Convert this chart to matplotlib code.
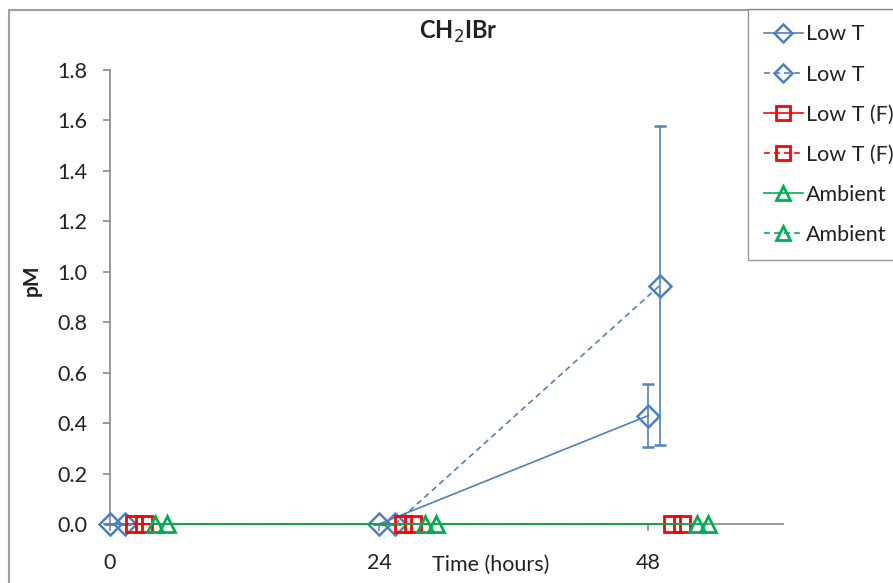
import matplotlib.pyplot as plt
import matplotlib.patches as patches
from matplotlib.lines import Line2D
import numpy as np

plt.rcParams['font.family'] = ['Lato', 'DejaVu Sans']

# sampling times (h), each series nudged sideways so markers don't sit on top of each other
t_lowT = [0, 24, 48]
t_lowT_b = [1.3, 25.4, 49.0]
t_lowTF = [2.1, 26.1, 50.1]
t_lowTF_b = [3.0, 27.0, 51.0]
t_amb = [4.0, 28.1, 52.3]
t_amb_b = [5.1, 29.1, 53.3]

lowT = [0.0, 0.0, 0.43]
lowT_err = [0.0, 0.0, 0.125]
lowT_b = [0.0, 0.0, 0.945]
lowT_b_err = [0.0, 0.0, 0.633]
lowTF = [0.0, 0.0, 0.0]
lowTF_b = [0.0, 0.0, 0.0]
amb = [0.0, 0.0, 0.0]
amb_b = [0.0, 0.0, 0.0]

labels = ['Low T', 'Low T', 'Low T (F)', 'Low T (F)', 'Ambient', 'Ambient']
xticks = [0, 24, 48]
yticks = np.arange(0, 1.81, 0.2)

blue = '#4F81BD'
red = '#FF0000'
green = '#00B050'
grey = '#868686'
txt = '#222222'

fig = plt.figure(figsize=(8.93, 5.83), dpi=100)
ax = fig.add_axes([110/893, 59/583, 673/893, 454/583])

dash = (0, (3.5, 2.5))
lw = 1.2

ax.errorbar(t_lowT, lowT, yerr=lowT_err, color=blue, lw=lw, marker='D', ms=11.5,
            mfc='none', mew=1.8, capsize=4, elinewidth=1.2, capthick=1.2, zorder=3)
ax.errorbar(t_lowT_b, lowT_b, yerr=lowT_b_err, color=blue, lw=lw, ls=dash,
            marker='D', ms=11.5, mfc='none', mew=1.8, capsize=4,
            elinewidth=1.2, capthick=1.2, zorder=3)
ax.plot(t_lowTF, lowTF, color=red, lw=lw, marker='s', ms=12, mfc='none', mew=2, zorder=4)
ax.plot(t_lowTF_b, lowTF_b, color=red, lw=lw, ls=dash, marker='s', ms=12,
        mfc='none', mew=2, zorder=4)
ax.plot(t_amb, amb, color=green, lw=lw, marker='^', ms=12, mfc='none', mew=2, zorder=5)
ax.plot(t_amb_b, amb_b, color=green, lw=lw, ls=dash, marker='^', ms=12,
        mfc='none', mew=2, zorder=5)

ax.set_xlim(0, 60)
ax.set_ylim(0, 1.8)
ax.set_xticks(xticks)
ax.set_xticklabels([str(v) for v in xticks])
ax.set_yticks(yticks)
ax.set_yticklabels(['%.1f' % v for v in yticks])

for s in ['top', 'right']:
    ax.spines[s].set_visible(False)
for s in ['left', 'bottom']:
    ax.spines[s].set_color(grey)
    ax.spines[s].set_linewidth(1.2)
ax.tick_params(axis='both', colors=grey, labelcolor=txt, labelsize=15.5,
               length=5, width=1.2, direction='out')
ax.tick_params(axis='y', pad=11)
ax.tick_params(axis='x', pad=16)
for art in ax.lines + ax.collections:
    art.set_clip_on(False)

fig.text(458/893, 1 - 32/583, 'CH$_2$IBr', fontsize=17, fontweight='bold',
         ha='center', va='center', color=txt)
ax.text(0.565, -0.09, 'Time (hours)', transform=ax.transAxes, fontsize=15.5,
        ha='center', va='center', color=txt)
fig.text(32/893, 1 - 280/583, 'pM', rotation=90, fontsize=15, fontweight='bold',
         ha='center', va='center', color=txt)

# outer chart frame
fig.patches.append(patches.Rectangle((9/893, -0.1), 1.2, 1 - 10/583 + 0.1,
                                     transform=fig.transFigure, fill=False,
                                     edgecolor='#A0A0A0', lw=1.5))

handles = [
    Line2D([], [], color=blue, lw=lw, marker='D', ms=9, mfc='none', mew=1.8),
    Line2D([], [], color=blue, lw=lw, ls=dash, marker='D', ms=9, mfc='none', mew=1.8),
    Line2D([], [], color=red, lw=lw, marker='s', ms=10, mfc='none', mew=2),
    Line2D([], [], color=red, lw=lw, ls=dash, marker='s', ms=10, mfc='none', mew=2),
    Line2D([], [], color=green, lw=lw, marker='^', ms=10, mfc='none', mew=2),
    Line2D([], [], color=green, lw=lw, ls=dash, marker='^', ms=10, mfc='none', mew=2),
]
leg = fig.legend(handles, labels, loc='upper left', bbox_to_anchor=(748/893, 1 - 9/583),
                 fontsize=15.5, frameon=True, fancybox=False, edgecolor='#808080',
                 handlelength=1.85, handletextpad=0.12, labelspacing=0.93,
                 borderpad=0.72, borderaxespad=0)
leg.get_frame().set_linewidth(1.0)
for t in leg.get_texts():
    t.set_color(txt)

fig.savefig('out.png', dpi=100)
